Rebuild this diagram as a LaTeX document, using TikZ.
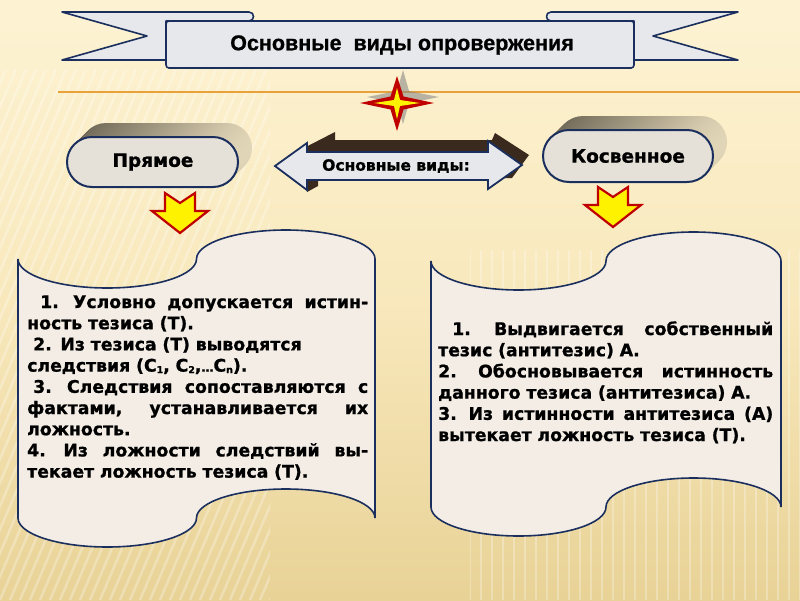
\documentclass[tikz,border=0pt]{standalone}
\usepackage{fontspec}
\newfontfamily\djv{DejaVu Sans}[BoldFeatures={FakeBold=1}]
\newfontfamily\lib{Liberation Sans}[BoldFeatures={FakeBold=0.8}]
\definecolor{navy}{HTML}{1B2F5E}
\definecolor{scrollfill}{HTML}{F3EDE6}
\definecolor{btnfill}{HTML}{E5E1D9}
\definecolor{bannerfill}{HTML}{E6E8EC}
\definecolor{extL}{HTML}{6B6453}
\definecolor{extR}{HTML}{E2D6B8}
\definecolor{arrowred}{HTML}{C00000}
\definecolor{starred}{HTML}{C00000}
\definecolor{darkbrown}{HTML}{3A2A1E}
\definecolor{orangeline}{HTML}{E9A23B}
\definecolor{bgtop}{HTML}{FDF3D3}
\definecolor{bgmid}{HTML}{F8E8BC}
\definecolor{bgbot}{HTML}{E8D296}
\newcommand\jline[2]{\leavevmode\hbox to #1{#2}}
\newcommand\smallsub[1]{\raisebox{-1.5pt}{\fontsize{9.5}{10}\selectfont #1}}
\begin{document}
\begin{tikzpicture}[x=1pt,y=-1pt,
  scrollbox/.style={fill=scrollfill, draw=navy, line width=1.6pt},
  btnbox/.style={fill=btnfill, draw=navy, line width=2pt, rounded corners=25pt},
  yarrow/.style={fill=yellow, draw=arrowred, line width=2.2pt, line join=miter},
  bannerpart/.style={fill=bannerfill, draw=navy, line width=1.6pt, line join=round},
  bodytext/.style={font=\djv\bfseries\fontsize{17.3}{21.2}\selectfont, inner sep=0pt, anchor=base west, align=left},
  btntext/.style={font=\djv\bfseries\fontsize{18.5}{20}\selectfont, inner sep=0pt},
  stripe/.style={white, opacity=0.28, line width=2.5pt}
]
\useasboundingbox (0,0) rectangle (800,600);
% background
\shade[top color=bgtop, bottom color=bgbot, middle color=bgmid] (0,0) rectangle (800,600);
\begin{scope}
  \clip (0,70) rectangle (270,600);
  \foreach \i in {-260,-250,...,280} \draw[stripe] (\i,600) -- ++(230,-540);
\end{scope}
\begin{scope}
  \clip (470,250) rectangle (800,600);
  \foreach \i in {470,481,...,800} \draw[stripe] (\i,250) -- (\i,600);
\end{scope}
\draw[orangeline, line width=2pt] (58,92) -- (800,92);

% banner
\draw[bannerpart] (62,12) -- (249,12) .. controls (255,12) and (255,21) .. (249,21) -- (166,21) -- (166,60) -- (62,60) -- (147,36) -- cycle;
\draw[bannerpart] (738,12) -- (551,12) .. controls (545,12) and (545,21) .. (551,21) -- (634,21) -- (634,60) -- (738,60) -- (653,36) -- cycle;
\draw[bannerpart, rounded corners=3pt] (166,21) rectangle (634,68);
\node[font=\lib\bfseries\fontsize{21.5}{24}\selectfont, inner sep=0pt] (title) at (402,45) {Основные\ \ виды опровержения};

% star
\fill[gray, opacity=0.55] (403,70) -- (409,91) -- (439,97) -- (409,103) -- (403,124) -- (397,103) -- (367,97) -- (397,91) -- cycle;
\fill[starred] (397,76) -- (403.5,96.5) -- (434,103) -- (403.5,109.5) -- (397,131) -- (390.5,109.5) -- (360,103) -- (390.5,96.5) -- cycle;
\fill[yellow] (397,88) -- (400,100) -- (420,103) -- (400,106) -- (397,119) -- (394,106) -- (374,103) -- (394,100) -- cycle;

% button Прямое
\foreach \i in {14,13,...,1} \shade[left color=extL, right color=extR, rounded corners=25pt] (67+\i,137-\i) rectangle (238+\i,187-\i);
\draw[btnbox] (67,137) rectangle (238,187);
\node[btntext] (direct) at (153,162) {Прямое};

% button Косвенное
\foreach \i in {14,13,...,1} \shade[left color=extL, right color=extR, rounded corners=26pt] (543+\i,130-\i) rectangle (713+\i,182-\i);
\draw[btnbox, rounded corners=26pt] (543,130) rectangle (713,182);
\node[btntext] (indirect) at (628,156) {Косвенное};

% double arrow
\fill[darkbrown] (300,150) -- (335,132) -- (335,140) -- (492,140) -- (495,133) -- (529,155) -- (512,178) -- (318,180) -- (318,186) -- (307,192) -- cycle;
\draw[fill=bannerfill, draw=navy, line width=1.8pt, line join=miter] (275,166) -- (307,143) -- (307,152) -- (488,152) -- (488,141) -- (522,165) -- (488,189) -- (488,180) -- (307,180) -- (307,190) -- cycle;
\node[font=\djv\bfseries\fontsize{15.5}{18}\selectfont, inner sep=0pt] (types) at (396,166) {Основные виды:};

% yellow arrows
\draw[yarrow] (165,193) -- (180,203) -- (195,193) -- (195,211) -- (208,211) -- (180,233) -- (152,211) -- (165,211) -- cycle;
\draw[yarrow] (598,187) -- (613,197) -- (628,187) -- (628,205) -- (641,205) -- (613,227) -- (585,205) -- (598,205) -- cycle;

% scrolls
\draw[scrollbox] (18,259) .. controls (18,275) and (58,288) .. (107.25,288) .. controls (156.5,288) and (196.5,275) .. (196.5,259) .. controls (196.5,243) and (236.5,230) .. (285.75,230) .. controls (335,230) and (375,243) .. (375,259) -- (375,518) .. controls (375,502) and (335,489) .. (285.75,489) .. controls (236.5,489) and (196.5,502) .. (196.5,518) .. controls (196.5,534) and (156.5,547) .. (107.25,547) .. controls (58,547) and (18,534) .. (18,518) -- cycle;
\draw[scrollbox] (431,261) .. controls (431,277) and (470.2,290) .. (518.5,290) .. controls (566.8,290) and (606,277) .. (606,261) .. controls (606,245) and (645.2,232) .. (693.5,232) .. controls (741.8,232) and (781,245) .. (781,261) -- (781,507) .. controls (781,491) and (741.8,478) .. (693.5,478) .. controls (645.2,478) and (606,491) .. (606,507) .. controls (606,523) and (566.8,536) .. (518.5,536) .. controls (470.2,536) and (431,523) .. (431,507) -- cycle;

\node[bodytext, text width=341pt] (lefttext) at (27,308) {%
\jline{341pt}{\hspace*{13pt}1. \hfill Условно \hfill допускается \hfill истин-}\\
ность тезиса (Т).\\
\hspace*{6pt}2. Из тезиса (Т) выводятся\\
следствия (С\smallsub{1}, С\smallsub{2},{\fontsize{12}{12}\selectfont…}С\smallsub{n}).\\
\jline{341pt}{\hspace*{6pt}3. \hfill Следствия \hfill сопоставляются \hfill с}\\
\jline{341pt}{фактами, \hfill устанавливается \hfill их}\\
ложность.\\
\jline{341pt}{4. \hfill Из \hfill ложности \hfill следствий \hfill вы-}\\
текает ложность тезиса (Т).};

\node[bodytext, text width=335pt] (righttext) at (438,335) {%
\jline{335pt}{\hspace*{14pt}1. \hfill Выдвигается \hfill собственный}\\
тезис (антитезис) А.\\
\jline{335pt}{2. \hfill Обосновывается \hfill истинность}\\
данного тезиса (антитезиса) А.\\
\jline{335pt}{3. \hfill Из \hfill истинности \hfill антитезиса \hfill (А)}\\
вытекает ложность тезиса (Т).};
\end{tikzpicture}
\end{document}
